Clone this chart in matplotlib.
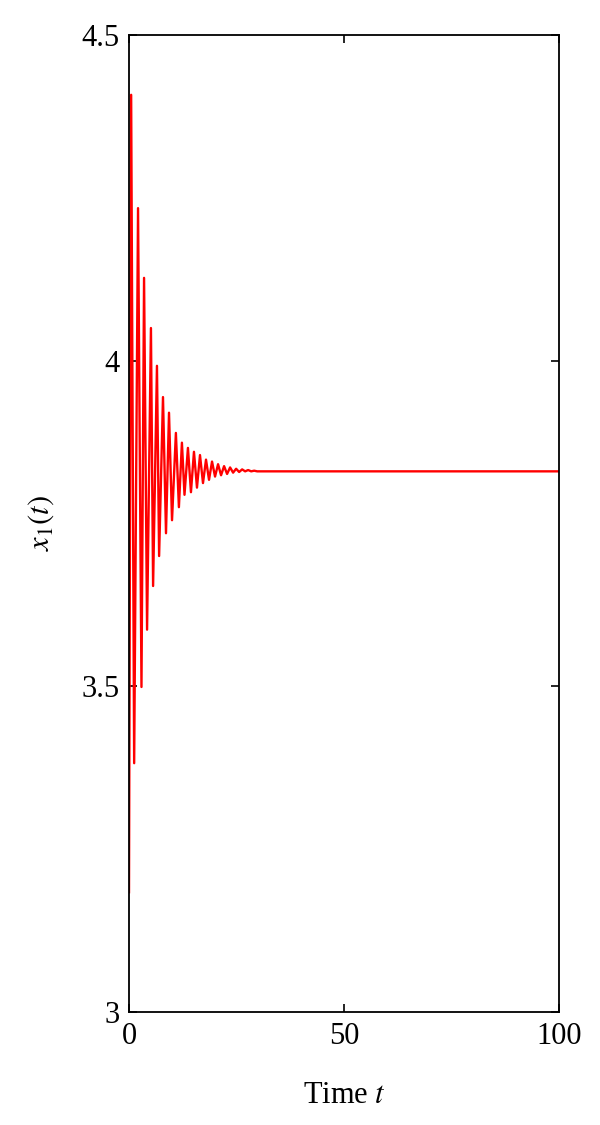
import matplotlib.pyplot as plt
import numpy as np

t = [0.0, 0.5, 1.2, 2.1, 2.9, 3.5, 4.2, 5.1, 5.6, 6.5, 7.0, 7.9, 8.6, 9.3, 10.0,
     10.9, 11.6, 12.3, 12.9, 13.7, 14.4, 15.1, 15.8, 16.5, 17.2, 17.9, 18.6,
     19.3, 20.0, 20.7, 21.4, 22.1, 22.8, 23.5, 24.2, 24.9, 25.6, 26.3, 27.0,
     27.7, 28.4, 29.1, 29.8, 100.0]
x1 = [3.184, 4.408, 3.382, 4.234, 3.499, 4.127, 3.587, 4.050, 3.654, 3.992,
      3.700, 3.944, 3.735, 3.920, 3.755, 3.889, 3.775, 3.874, 3.794, 3.866,
      3.798, 3.860, 3.805, 3.855, 3.812, 3.848, 3.817, 3.845, 3.822, 3.841,
      3.824, 3.838, 3.826, 3.836, 3.828, 3.834, 3.829, 3.833, 3.830, 3.832,
      3.830, 3.831, 3.830, 3.830]

plt.rcParams['font.family'] = ['Liberation Serif', 'DejaVu Serif']
plt.rcParams['mathtext.fontset'] = 'stix'

fig = plt.figure(figsize=(6, 11.25), dpi=100)
ax = fig.add_axes([0.215, 0.1004, 0.717, 0.8686])
ax.plot(t, x1, color="red", linewidth=1.7)

ax.set_xlim(0, 100)
ax.set_ylim(3, 4.5)
ax.set_xticks([0, 50, 100])
ax.set_yticks([3, 3.5, 4, 4.5])
ax.set_yticklabels(["3", "3.5", "4", "4.5"])
ax.tick_params(direction="in", top=True, right=True, length=6, width=1.2,
               labelsize=22, pad=7)
for s in ax.spines.values():
    s.set_linewidth(1.3)

ax.set_xlabel("Time $t$", fontsize=22, labelpad=22)
ax.set_ylabel("$x_1(t)$", fontsize=22, labelpad=18)

fig.savefig("out.png", dpi=100)
